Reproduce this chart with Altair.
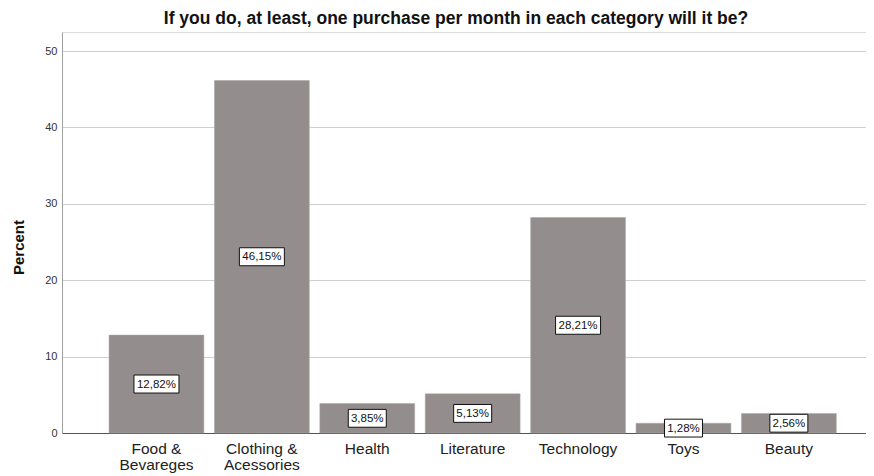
import altair as alt
import pandas as pd

categories = ["Food & Bevareges", "Clothing & Acessories", "Health", "Literature",
              "Technology", "Toys", "Beauty"]
percents = [12.82, 46.15, 3.85, 5.13, 28.21, 1.28, 2.56]
labels = ["12,82%", "46,15%", "3,85%", "5,13%", "28,21%", "1,28%", "2,56%"]
y_ticks = [0, 10, 20, 30, 40, 50]

df = pd.DataFrame({"category": categories, "percent": percents, "label": labels})
df["mid"] = df["percent"] / 2
df["nchar"] = df["label"].str.len()

xscale = alt.Scale(domain=categories, paddingInner=0.1, paddingOuter=0.364, align=0.613)
yscale = alt.Scale(domain=[0, 52.5], nice=False, zero=True)

x = alt.X("category:N", scale=xscale, sort=categories, title=None,
          axis=alt.Axis(labelAngle=0, labelFontSize=15.5, labelColor="#222222",
                        labelFont="Liberation Sans", labelLineHeight=16,
                        labelPadding=8, ticks=False, domainColor="#555555",
                        domainWidth=1, grid=False,
                        labelExpr="indexof(datum.label, ' & ') >= 0 ? [split(datum.label, ' & ')[0] + ' &', split(datum.label, ' & ')[1]] : datum.label"))

base = alt.Chart(df)

bars = base.mark_bar(color="#938e8d", stroke="#aaa6a5", strokeWidth=0.5).encode(
    x=x,
    y=alt.Y("percent:Q", scale=yscale, title="Percent",
            axis=alt.Axis(values=y_ticks, labelFontSize=11, labelColor="#333333",
                          labelFont="Liberation Sans", ticks=False, labelPadding=5,
                          domainColor="#a0a0a0", gridColor="#cfcfcf", gridWidth=1,
                          titleFont="Liberation Sans", titleFontSize=15,
                          titleFontWeight="bold", titleColor="#111111",
                          titleAngle=-90, titleX=-44, titleY=215,
                          titleAlign="center", titleBaseline="middle")),
)

box6 = base.transform_filter("datum.nchar >= 6").mark_point(
    shape="M-1,-0.4L1,-0.4L1,0.4L-1,0.4Z", filled=True, fill="white",
    stroke="#111111", strokeWidth=1, size=45 * 45, opacity=1
).encode(x=x, y=alt.Y("mid:Q", scale=yscale))

box5 = base.transform_filter("datum.nchar < 6").mark_point(
    shape="M-1,-0.47L1,-0.47L1,0.47L-1,0.47Z", filled=True, fill="white",
    stroke="#111111", strokeWidth=1, size=38 * 38, opacity=1
).encode(x=x, y=alt.Y("mid:Q", scale=yscale))

text = base.mark_text(font="Liberation Sans", fontSize=11.5, color="#111111",
                      baseline="middle", align="center", dy=0.5).encode(
    x=x, y=alt.Y("mid:Q", scale=yscale), text="label:N")

chart = alt.layer(bars, box6, box5, text).properties(
    width=804, height=401,
    title=alt.TitleParams("If you do, at least, one purchase per month in each category will it be?",
                          font="Liberation Sans", fontSize=17.5, fontWeight="bold",
                          color="#111111", anchor="middle", dx=-8, offset=5),
    autosize=alt.AutoSizeParams(type="none"),
    padding={"left": 54, "top": 24, "right": 0, "bottom": 42},
).configure_view(stroke=None).configure(background="white")

chart.save("out.html", embed_options={"renderer": "svg", "actions": False})
